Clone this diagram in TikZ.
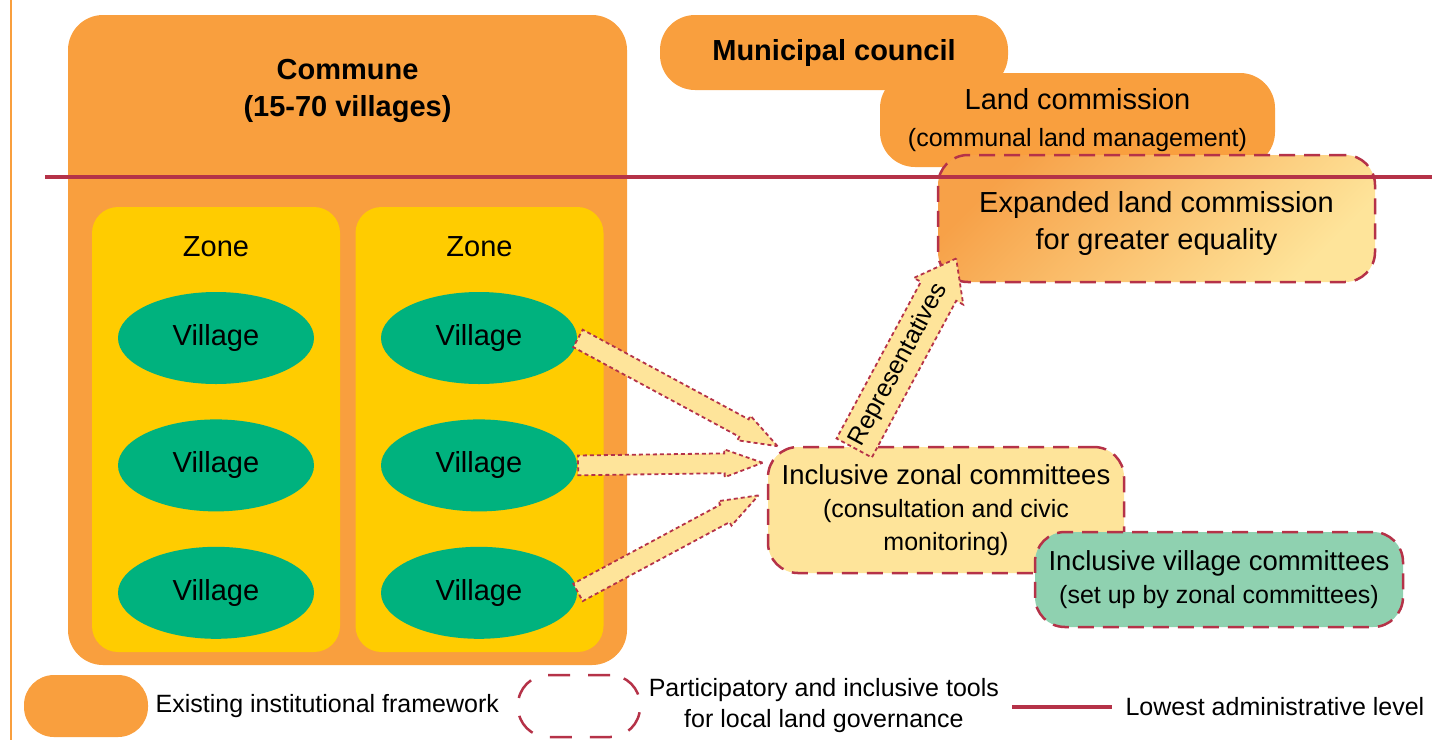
\documentclass[tikz,border=0pt]{standalone}
\usepackage{fontspec}
\setmainfont{Liberation Sans}
\usetikzlibrary{positioning,calc,shapes.geometric,shapes.arrows}

\definecolor{frame-orange}{HTML}{F99F3E}
\definecolor{zone-yellow}{HTML}{FFCC00}
\definecolor{village-green}{HTML}{00B27E}
\definecolor{tool-yellow}{HTML}{FEE49A}
\definecolor{tool-green}{HTML}{8FD1B0}
\definecolor{tool-orange}{HTML}{F7A148}
\definecolor{level-red}{HTML}{B53248}

\newcommand{\txtbig}{\fontsize{29}{37}\selectfont}
\newcommand{\txtmid}{\fontsize{27.5}{33}\selectfont}
\newcommand{\txtsmall}{\fontsize{25}{31}\selectfont}

\tikzset{
    frame-box/.style = {fill=frame-orange, rectangle, rounded corners=35pt, inner sep=0pt},
    zone-box/.style = {fill=zone-yellow, rectangle, rounded corners=26pt, minimum width=248pt, minimum height=445pt},
    village/.style = {fill=village-green, ellipse, minimum width=196pt, minimum height=92pt, font=\txtbig},
    tool-box/.style = {draw=level-red, line width=2.5pt, dash pattern=on 16pt off 9pt, rectangle, rounded corners=30pt, align=center},
    fat-arrow/.style = {single arrow, draw=level-red, fill=tool-yellow, line width=1.8pt, dash pattern=on 4pt off 3pt, inner xsep=0pt, inner ysep=9pt, single arrow head indent=0pt, single arrow head extend=4pt, single arrow tip angle=40},
    level-line/.style = {draw=level-red, line width=4.5pt},
}

% wide arrow from one point to another
\newcommand{\fatarrow}[4][]{%
  \path let \p1=(#2), \p2=(#3), \n1={atan2(\y2-\y1,\x2-\x1)}, \n2={veclen(\x2-\x1,\y2-\y1)} in
    node[fat-arrow, #1, minimum height=\n2, rotate=\n1, anchor=tail] at (\p1) {#4};}

\begin{document}
\begin{tikzpicture}[x=1pt, y=-1pt]
\useasboundingbox (0,0) rectangle (1432,740);
\draw[frame-orange, line width=2pt] (11,0) -- (11,740);

% commune, zones and villages
\node[frame-box, minimum width=559pt, minimum height=650pt] (commune) at (347.5,340) {};
\node[font=\txtbig\bfseries, align=center, below=41pt] at (commune.north) {Commune\\(15-70 villages)};
\node[zone-box] (zone-a) at (216,429.5) {};
\node[zone-box] (zone-b) at (479.5,429.5) {};
\node[font=\txtbig, below=26pt] at (zone-a.north) {Zone};
\node[font=\txtbig, below=26pt] at (zone-b.north) {Zone};
\node[village] (va1) at (216,338) {Village};
\node[village, below=35pt of va1] (va2) {Village};
\node[village, below=35pt of va2] (va3) {Village};
\node[village] (vb1) at (479,338) {Village};
\node[village, below=35pt of vb1] (vb2) {Village};
\node[village, below=35pt of vb2] (vb3) {Village};

% council and commissions
\node[frame-box, minimum width=348pt, minimum height=75pt, font=\txtbig\bfseries] (council) at (834,52.5) {Municipal council};
\node[frame-box, minimum width=395pt, minimum height=94pt, align=center, font=\txtbig] (landcom) at (1077.5,120) {Land commission\\{\txtsmall (communal land management)}};
\node[tool-box, top color=tool-orange, bottom color=tool-yellow, shading angle=45, minimum width=437pt, minimum height=127pt] (expanded) at (1156.5,218.5) {};
\node[font=\txtbig, align=center] at ([yshift=-5pt]expanded.center) {Expanded land commission\\for greater equality};

\draw[level-line] (45,177) -- (1432,177);

% committees
\node[tool-box, fill=tool-yellow, minimum width=356pt, minimum height=126pt, font=\txtmid] (zonal) at (946,510) {Inclusive zonal committees\\{\txtsmall (consultation and civic}\\{\txtsmall monitoring)}};
\node[tool-box, fill=tool-green, minimum width=368pt, minimum height=95pt, font=\txtmid] (village-com) at (1219,579.5) {Inclusive village committees\\{\txtsmall (set up by zonal committees)}};

% arrows
\coordinate (in-a) at ($(zonal.north west)+(10,0)$);
\coordinate (in-b) at ($(zonal.north west)+(-5,17)$);
\coordinate (in-c) at ($(zonal.north west)+(-9,50)$);
\coordinate (rep-start) at ($(zonal.north west)+(87,3)$);
\coordinate (rep-tip) at ($(expanded.south west)+(19,-24)$);
\fatarrow{vb1.east}{in-a}{}
\fatarrow{vb2.east}{in-b}{}
\fatarrow{vb3.east}{in-c}{}
\fatarrow[inner ysep=7.5pt, single arrow head extend=8pt, single arrow tip angle=74, font=\txtsmall]{rep-start}{rep-tip}{Representatives}

% legend
\node[frame-box, minimum width=124pt, minimum height=62pt, rounded corners=30pt] (key-frame) at (86,706) {};
\node[font=\txtsmall, right=4pt of key-frame] (key-frame-text) {Existing institutional framework};
\node[draw=level-red, line width=2.5pt, dash pattern=on 22pt off 18pt, rounded corners=30pt, minimum width=122pt, minimum height=62pt] (key-tool) at (579,706) {};
\node[font=\txtsmall, align=center, right=4pt of key-tool] (key-tool-text) {Participatory and inclusive tools\\for local land governance};
\draw[level-line] (1012,707) -- (1112,707) node[right=8pt, font=\txtsmall] (key-level-text) {Lowest administrative level};
\end{tikzpicture}
\end{document}
